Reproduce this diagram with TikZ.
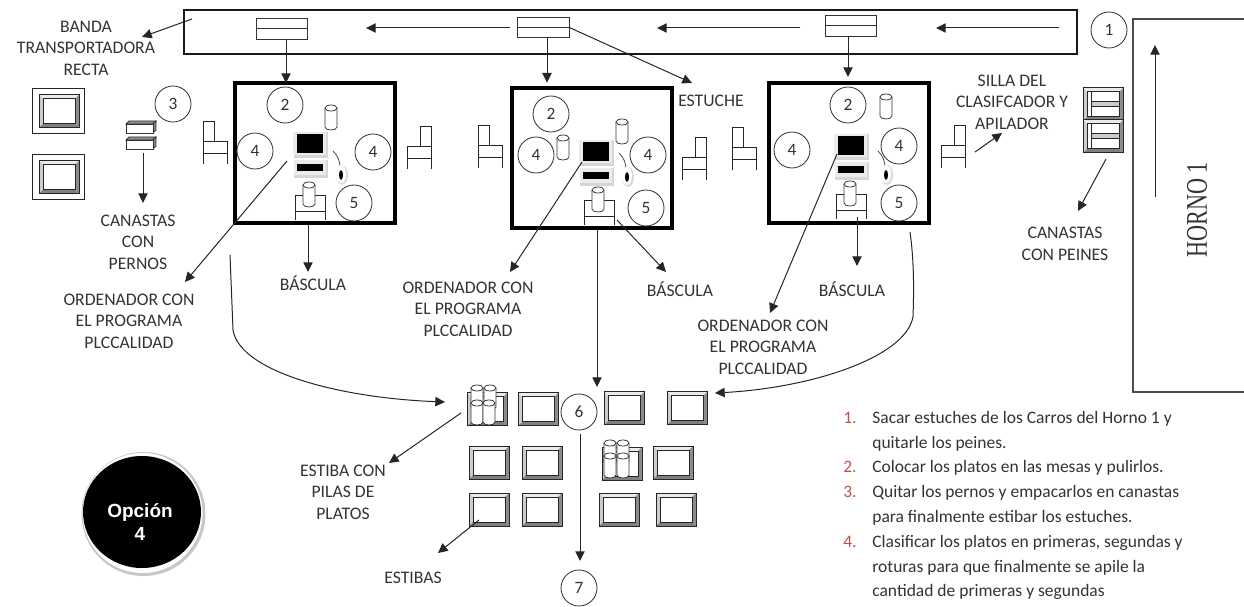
\documentclass[tikz,border=0pt]{standalone}
\usepackage{fontspec}
\setmainfont{Carlito}
\newfontfamily\arialfont{Liberation Sans}
\newfontfamily\hornofont{Liberation Serif}
\usetikzlibrary{arrows.meta, positioning, calc}
\definecolor{tinta}{gray}{0.2}
\definecolor{rojolista}{HTML}{C0504D}
\tikzset{
  flecha/.style={->, black!85, line width=0.6pt},
  mesa/.style={draw=black, line width=2.6pt, minimum width=96pt, minimum height=84pt, inner sep=0pt, outer sep=0pt},
  carrobox/.style={draw=black!80, line width=0.6pt, minimum width=31pt, minimum height=12.4pt, inner sep=0pt, outer sep=0pt,
    path picture={\draw[black!80, line width=0.6pt] (path picture bounding box.west) -- (path picture bounding box.east);}},
  numcirc/.style={circle, draw=black!80, line width=0.5pt, minimum size=21.6pt, inner sep=0pt, text=tinta, font=\fontsize{10.4}{12}\selectfont},
  etiqueta/.style={align=center, text=tinta, inner sep=0pt, font=\fontsize{10.6}{12.9}\selectfont},
  listatxt/.style={anchor=base west, text=black!80, inner sep=0pt, font=\fontsize{10.5}{12}\selectfont},
  listanum/.style={anchor=base west, text=rojolista, inner sep=0pt, font=\fontsize{10.5}{12}\selectfont},
  silla/.pic={
    \draw[black!85, line width=0.55pt] (0,20) -- (0,0) -- (11,0) -- (11,20);
    \draw[black!85, line width=0.55pt] (0,43) -- (0,20) -- (24,20) -- (24,43);
    \draw[black!85, line width=0.55pt] (0,32) -- (24,32);
  },
  cilindro/.pic={
    \filldraw[fill=white, draw=black!80, line width=0.45pt] (-6,3) -- (-6,22) .. controls (-6,26) and (6,26) .. (6,22) -- (6,3);
    \filldraw[fill=white, draw=black!80, line width=0.45pt] (0,3) ellipse [x radius=6, y radius=3];
  },
  estiba/.pic={
    \fill[black!8] (0,0) -- (40,0) -- (36,4) -- (4,4) -- cycle;
    \fill[black!20] (0,0) -- (0,33) -- (4,29) -- (4,4) -- cycle;
    \fill[black!45] (40,0) -- (40,33) -- (36,29) -- (36,4) -- cycle;
    \fill[black!50] (0,33) -- (40,33) -- (36,29) -- (4,29) -- cycle;
    \draw[black!85, line width=0.6pt] (0,0) rectangle (40,33);
    \draw[black!85, line width=0.6pt] (4,4) rectangle (36,29);
  },
  ordenador/.pic={
    \fill[black!16] (-3,-2) rectangle (31,24);
    \fill[black!8] (-4,-2) rectangle (29,21);
    \fill[black] (0,0) rectangle (26,19);
    \fill[black!16] (-3,26) rectangle (31,44);
    \fill[black!8] (-3,26) rectangle (29,41);
    \fill[black] (0,30) rectangle (26,37);
  },
  raton/.pic={
    \draw[black!70, line width=0.5pt] (-8,-24) .. controls (-3,-19) and (-1,-14) .. (-1,-7);
    \fill[black!14] (1,0) ellipse [x radius=6, y radius=10];
    \fill[white] (0,-1) ellipse [x radius=5, y radius=9];
    \fill[black] (0,0) ellipse [x radius=2, y radius=5];
  },
  bascula/.pic={
    \draw[black!85, line width=0.55pt] (0,25) -- (0,0) -- (30,0) -- (30,25);
    \draw[black!85, line width=0.55pt] (0,16) -- (30,16);
    \pic at (14,-13) {cilindro};
  },
  canasta/.pic={
    \filldraw[fill=black!45, draw=black!80, line width=0.45pt] (0,3) -- (3,0) -- (30,0) -- (27,3) -- cycle;
    \filldraw[fill=black!45, draw=black!80, line width=0.45pt] (27,3) -- (30,0) -- (30,9) -- (27,12) -- cycle;
    \filldraw[fill=white, draw=black!80, line width=0.45pt] (0,3) rectangle (27,12);
  },
  peine/.pic={
    \pic at (0,0) {estiba};
    \draw[black!85, line width=0.5pt, fill=black!20] (8,13) rectangle (36,18);
    \draw[black!85, line width=0.5pt] (8,4) -- (8,29);
  },
}
\begin{document}
\begin{tikzpicture}[x=0.6pt, y=-0.6pt, >={Stealth[length=5.8pt, width=5.6pt, inset=0pt]}]
\useasboundingbox (0,0) rectangle (1244,607);
% banda y carros
\node[draw=black!90, line width=1.3pt, minimum width=535.8pt, minimum height=26.4pt, inner sep=0pt, outer sep=0pt] (banda) at (630.5,32) {};
\node[carrobox] (carro1) at (282,29) {};
\node[carrobox] (carro2) at (543.5,27.5) {};
\node[carrobox] (carro3) at (851,26) {};
\coordinate (bandaA) at (1059,28); \coordinate (bandaB) at (936,28);
\coordinate (bandaC) at (800,28);  \coordinate (bandaD) at (657,28);
\coordinate (bandaE) at (510,28);  \coordinate (bandaF) at (366,28);
\draw[flecha] (bandaA) -- (bandaB);
\draw[flecha] (bandaC) -- (bandaD);
\draw[flecha] (bandaE) -- (bandaF);
% mesas
\node[mesa] (mesa1) at (314.75,153) {};
\node[mesa] (mesa2) at (592,158) {};
\node[mesa] (mesa3) at (849,153) {};
\draw[flecha] ([xshift=2.4pt]carro1.south) -- ([xshift=2.4pt]carro1.south |- mesa1.north);
\draw[flecha, shorten >=3.2pt] ([xshift=2.1pt]carro2.south) -- ([xshift=2.1pt]carro2.south |- mesa2.north);
\draw[flecha, shorten >=3.6pt] ([xshift=-1.8pt]carro3.south) -- ([xshift=-1.8pt]carro3.south |- mesa3.north);
% sillas
\pic at (203,121) {silla};
\pic[xscale=-1] at (431,126) {silla};
\pic at (478,125) {silla};
\pic[xscale=-1] at (706,137) {silla};
\pic at (732,127) {silla};
\pic[xscale=-1] at (965,125) {silla};
% ordenadores, cilindros y basculas
\pic at (297,134) {ordenador};
\pic at (583,142) {ordenador};
\pic at (838,136) {ordenador};
\pic at (341,175) {raton};
\pic at (627,177) {raton};
\pic at (886,175) {raton};
\pic at (331,105) {cilindro};
\pic at (563,135) {cilindro};
\pic at (622,119) {cilindro};
\pic at (886,94) {cilindro};
\pic at (295,195) {bascula};
\pic at (584,200) {bascula};
\pic at (836,194) {bascula};
% estibas de la izquierda
\draw[black!85, line width=0.5pt] (32,88) rectangle (84,133);
\draw[black!85, line width=0.5pt] (32,154) rectangle (84,199);
\pic at (39,95) {estiba};
\pic at (39,161) {estiba};
\pic at (126,121) {canasta};
\pic at (126,137) {canasta};
% canastas con peines
\pic at (1083,88) {peine};
\pic at (1083,120) {peine};
% horno
\draw[black!70, line width=0.8pt] (1244,19) -- (1133,19) -- (1133,392) -- (1244,392);
\coordinate (hornoA) at (1155,197); \coordinate (hornoB) at (1155,45);
\draw[flecha] (hornoA) -- (hornoB);
\node[rotate=90, xscale=0.74, transform shape, text=black!80, inner sep=0pt, font=\hornofont\fontsize{18}{20}\selectfont] (horno) at (1197,210) {HORNO 1};
% estibas de abajo
\foreach \px/\py in {467/393, 518/393, 604/392, 667/392, 469/446, 522/446, 602/447, 653/446, 469/493, 522/493, 599/493, 656/493}
  \pic at (\px,\py) {estiba};
\foreach \px/\py in {477/385, 490/385, 477/400, 489/400, 610/440, 623/440, 610/453, 623/453}
  \pic at (\px,\py) {cilindro};
% circulos
\node[numcirc] (n1) at (1109,30) {1};
\node[numcirc] (n2a) at (285,105) {2};
\node[numcirc] (n2b) at (551,114) {2};
\node[numcirc] (n2c) at (848,105) {2};
\node[numcirc] (n3) at (173,104) {3};
\node[numcirc] (n4a) at (255,151) {4};
\node[numcirc] (n4b) at (373,152) {4};
\node[numcirc] (n4c) at (536,155) {4};
\node[numcirc] (n4d) at (648,155) {4};
\node[numcirc] (n4e) at (792,150) {4};
\node[numcirc] (n4f) at (899,146) {4};
\node[numcirc] (n5a) at (354,203) {5};
\node[numcirc] (n5b) at (646,208) {5};
\node[numcirc] (n5c) at (899,203) {5};
\node[numcirc] (n6) at (579,412) {6};
\node[numcirc] (n7) at (579,588) {7};
% etiquetas
\node[etiqueta] (lbanda) at (86,48) {BANDA\\TRANSPORTADORA\\RECTA};
\node[etiqueta] (lpernos) at (138,242) {CANASTAS\\CON\\PERNOS};
\node[etiqueta] (lord1) at (129,321) {ORDENADOR CON\\EL PROGRAMA\\PLCCALIDAD};
\node[etiqueta] (lord2) at (468,309) {ORDENADOR CON\\EL PROGRAMA\\PLCCALIDAD};
\node[etiqueta] (lord3) at (763,347) {ORDENADOR CON\\EL PROGRAMA\\PLCCALIDAD};
\node[etiqueta] (lbas1) at (313,283) {BÁSCULA};
\node[etiqueta] (lbas2) at (680,289) {BÁSCULA};
\node[etiqueta] (lbas3) at (852,289) {BÁSCULA};
\node[etiqueta] (lestuche) at (711,101) {ESTUCHE};
\node[etiqueta] (lsilla) at (1012,102) {SILLA DEL\\CLASIFCADOR Y\\APILADOR};
\node[etiqueta] (lpeines) at (1065,244) {CANASTAS\\CON PEINES};
\node[etiqueta] (lpilas) at (343,492) {ESTIBA CON\\PILAS DE\\PLATOS};
\node[etiqueta] (lestibas) at (413,578) {ESTIBAS};
% flechas
\coordinate (a1) at (192,19);  \coordinate (b1) at (142,37);
\draw[flecha] (a1) -- (b1);
\coordinate (a2) at (143,153); \coordinate (b2) at (143,203);
\draw[flecha] (a2) -- (b2);
\coordinate (a3) at (287,161); \coordinate (b3) at (185,282);
\draw[flecha] (a3) -- (b3);
\coordinate (a4) at (308,225); \coordinate (b4) at (308,272);
\draw[flecha] (a4) -- (b4);
\coordinate (b5) at (692,83);
\draw[flecha] (carro2.east) -- (b5);
\coordinate (a6) at (582,162); \coordinate (b6) at (510,272);
\draw[flecha] (a6) -- (b6);
\coordinate (a7) at (617,220); \coordinate (b7) at (666,272);
\draw[flecha] (a7) -- (b7);
\coordinate (a8) at (597,230); \coordinate (b8) at (597,387);
\draw[flecha] (a8) -- (b8);
\coordinate (a9) at (837,154); \coordinate (b9) at (770,313);
\draw[flecha] (a9) -- (b9);
\coordinate (a10) at (857,217); \coordinate (b10) at (857,266);
\draw[flecha] (a10) -- (b10);
\coordinate (a11) at (975,152); \coordinate (b11) at (1002,133);
\draw[flecha] (a11) -- (b11);
\coordinate (a12) at (1106,159); \coordinate (b12) at (1078,211);
\draw[flecha] (a12) -- (b12);
\coordinate (a13) at (461,413); \coordinate (b13) at (389,463);
\draw[flecha] (a13) -- (b13);
\coordinate (a14) at (479,520); \coordinate (b14) at (438,553);
\draw[flecha] (a14) -- (b14);
\coordinate (a15) at (580,434); \coordinate (b15) at (580,561);
\draw[flecha] (a15) -- (b15);
\coordinate (a16) at (230,255); \coordinate (a16m) at (233,330); \coordinate (b16) at (445,402);
\draw[flecha] (a16) -- (a16m) .. controls (240,372) and (340,398) .. (b16);
\coordinate (a17) at (910,232); \coordinate (a17m) at (913,317); \coordinate (b17) at (715,393);
\draw[flecha] (a17) .. controls (914,260) and (914,290) .. (a17m) .. controls (905,358) and (810,388) .. (b17);
% opcion
\fill[black!22] (143.5,514) circle [radius=62];
\fill[white] (142.5,513) circle [radius=60];
\fill[black] (142,512) ellipse [x radius=59, y radius=56];
\node[align=center, text=white, inner sep=0pt, font=\arialfont\bfseries\fontsize{11.4}{13.8}\selectfont] (opcion) at (140,522) {Opción\\4};
% lista
\node[listanum] (num1) at (843,423) {1.};
\node[listatxt] (t1a) at (872,423) {Sacar estuches de los Carros del Horno 1 y};
\node[listatxt] (t1b) at (872,448) {quitarle los peines.};
\node[listanum] (num2) at (843,472.5) {2.};
\node[listatxt] (t2a) at (872,472.5) {Colocar los platos en las mesas y pulirlos.};
\node[listanum] (num3) at (843,497) {3.};
\node[listatxt] (t3a) at (872,497) {Quitar los pernos y empacarlos en canastas};
\node[listatxt] (t3b) at (872,522) {para finalmente estibar los estuches.};
\node[listanum] (num4) at (843,547) {4.};
\node[listatxt] (t4a) at (872,547) {Clasificar los platos en primeras, segundas y};
\node[listatxt] (t4b) at (872,572) {roturas para que finalmente se apile la};
\node[listatxt] (t4c) at (872,596.5) {cantidad de primeras y segundas};
\end{tikzpicture}
\end{document}
